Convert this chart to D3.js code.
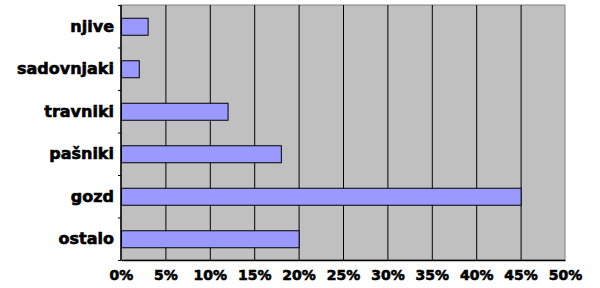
<!DOCTYPE html>
<html>
<head>
<meta charset="utf-8">
<script src="https://cdn.jsdelivr.net/npm/d3@7"></script>
<style>
  body { margin: 0; background: #fff; }
  text { font-family: "DejaVu Sans", sans-serif; font-weight: bold; fill: #000; stroke: #000; stroke-width: 0.6px; }
</style>
</head>
<body>
<svg width="600" height="288"></svg>
<script>
const categories = ["njive", "sadovnjaki", "travniki", "pašniki", "gozd", "ostalo"];
const values     = [3, 2, 12, 18, 45, 20];
const ticks      = [0, 5, 10, 15, 20, 25, 30, 35, 40, 45, 50];

const svg    = d3.select("svg"),
      margin = {top: 5, right: 35, bottom: 28, left: 121},
      width  = 600 - margin.left - margin.right,
      height = 288 - margin.top - margin.bottom,
      x      = d3.scaleLinear().domain([0, 50]).range([0, width]),
      y      = d3.scaleBand().domain(categories).range([0, height]).paddingInner(0.6).paddingOuter(0.3),
      g      = svg.append("g").attr("transform", `translate(${margin.left},${margin.top})`);

// plot background
g.append("rect")
    .attr("width", width)
    .attr("height", height)
    .attr("fill", "#c0c0c0")
    .attr("stroke", "#808080");

// gridlines
g.selectAll(".grid")
  .data(ticks.slice(1, -1))
  .enter().append("line")
    .attr("x1", d => x(d) + 0.5)
    .attr("x2", d => x(d) + 0.5)
    .attr("y1", 0)
    .attr("y2", height)
    .attr("stroke", "#000");

// bars
g.selectAll(".bar")
  .data(values)
  .enter().append("rect")
    .attr("class", "bar")
    .attr("x", 0.5)
    .attr("y", (d, i) => y(categories[i]) + 0.5)
    .attr("width", d => x(d))
    .attr("height", y.bandwidth())
    .attr("fill", "#9999ff")
    .attr("stroke", "#000");

// x axis
const xAxis = g.append("g")
    .attr("transform", `translate(0,${height})`)
    .call(d3.axisBottom(x).tickValues(ticks).tickFormat(d => d + "%").tickSize(0).tickPadding(10));
xAxis.select(".domain").attr("stroke", "#000").attr("stroke-width", 1.5);
xAxis.selectAll("text").style("font-size", "14px");

// y axis with ticks at category boundaries
g.append("line")
    .attr("x1", 0).attr("x2", 0)
    .attr("y1", 0).attr("y2", height)
    .attr("stroke", "#000").attr("stroke-width", 1.5);
g.selectAll(".ytick")
  .data(d3.range(categories.length + 1))
  .enter().append("line")
    .attr("x1", -3).attr("x2", 0)
    .attr("y1", i => i * height / categories.length + 0.5)
    .attr("y2", i => i * height / categories.length + 0.5)
    .attr("stroke", "#000");

g.selectAll(".ylabel")
  .data(categories)
  .enter().append("text")
    .attr("x", -7)
    .attr("y", d => y(d) + y.bandwidth() / 2)
    .attr("dy", "0.35em")
    .attr("text-anchor", "end")
    .style("font-size", "16px")
    .text(d => d);
</script>
</body>
</html>
